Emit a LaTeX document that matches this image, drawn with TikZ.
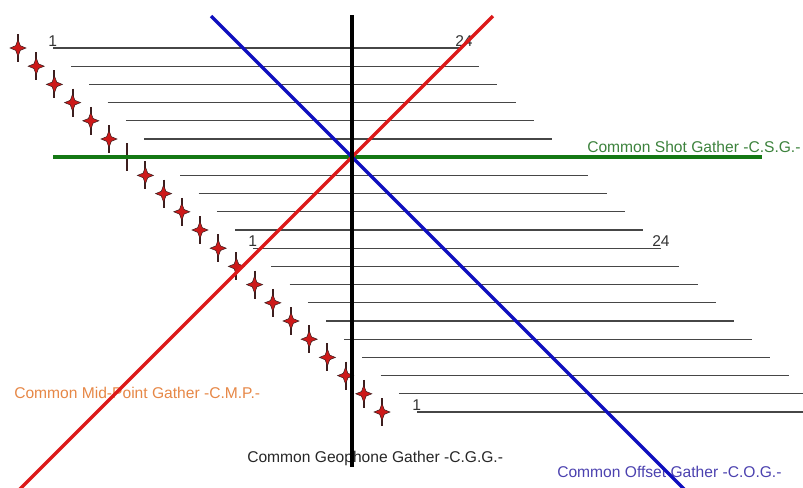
\documentclass[tikz,border=0pt]{standalone}
\usepackage{fontspec}
\setmainfont{Liberation Sans}
\definecolor{traceGray}{RGB}{70,70,70}
\definecolor{shotRed}{RGB}{205,25,25}
\definecolor{shotDark}{RGB}{60,30,30}
\definecolor{csgGreen}{RGB}{20,120,20}
\definecolor{csgText}{RGB}{60,130,60}
\definecolor{cmpRed}{RGB}{220,25,25}
\definecolor{cmpText}{RGB}{230,135,70}
\definecolor{cogBlue}{RGB}{15,15,190}
\definecolor{cogText}{RGB}{75,65,175}
\newcommand{\shot}[2][1]{%
  \begin{scope}[shift={(#2)}]
    \draw[shotDark,line width=1.6pt] (0,-14) -- (0,14);
    \ifnum#1=1
      \filldraw[fill=shotRed,draw=shotDark,line width=0.4pt]
        (-8,0) -- (-2.3,-2.3) -- (0,-8.5) -- (2.3,-2.3) -- (8,0)
        -- (2.3,2.3) -- (0,8.5) -- (-2.3,2.3) -- cycle;
    \fi
  \end{scope}}

\begin{document}
\begin{tikzpicture}[x=0.75pt,y=-0.75pt,
    rcvline/.style={draw=traceGray,line width=0.9pt},
    gather/.style={line width=2.6pt},
    lbl/.style={font=\fontsize{11.7}{13}\selectfont,inner sep=0pt,anchor=base west},
    chan/.style={font=\fontsize{11.7}{13}\selectfont,inner sep=0pt,anchor=base west,text=black!80}]
  \useasboundingbox (0,0) rectangle (803,487);
  % receiver spreads, one per shot
  \foreach \i in {0,...,20}{
    \ifnum\i=6 \else
      \draw[rcvline] (18+18.2*\i+35,48+18.2*\i) -- ++(408,0);
    \fi
  }
  % channel numbers
  \node[chan] (chA1)  at (48,46)  {1};
  \node[chan] (chA24) at (455,46) {24};
  \node[chan] (chB1)  at (248,246) {1};
  \node[chan] (chB24) at (652,246) {24};
  \node[chan] (chC1)  at (412,410) {1};
  % gather names
  \node[lbl,text=csgText]  (csg) at (587,152) {Common Shot Gather -C.S.G.-};
  \node[lbl,text=cmpText]  (cmp) at (14,398)  {Common Mid-Point Gather -C.M.P.-};
  \node[lbl,text=black!85] (cgg) at (247,462) {Common Geophone Gather -C.G.G.-};
  \node[lbl,text=cogText]  (cog) at (557,477) {Common Offset Gather -C.O.G.-};
  % shots
  \foreach \i in {0,...,20}{
    \ifnum\i=6 \shot[0]{18+18.2*\i,48+18.2*\i}
    \else \shot{18+18.2*\i,48+18.2*\i}\fi
  }
  % gather lines
  \coordinate (mid)    at (352,157);
  \coordinate (csgW)   at (53,157);
  \coordinate (csgE)   at (762,157);
  \coordinate (cmpTop) at (493,16);
  \coordinate (cmpBot) at (18,491);
  \coordinate (cogTop) at (211,16);
  \coordinate (cogBot) at (686,491);
  \coordinate (cggTop) at (352,15);
  \coordinate (cggBot) at (352,467);
  \draw[gather,csgGreen] (csgW) -- (csgE);
  \draw[gather,cmpRed] (cmpTop) -- (mid) -- (cmpBot);
  \draw[gather,cogBlue] (cogTop) -- (mid) -- (cogBot);
  \draw[gather,black,line width=3.2pt] (cggTop) -- (cggBot);
\end{tikzpicture}
\end{document}
